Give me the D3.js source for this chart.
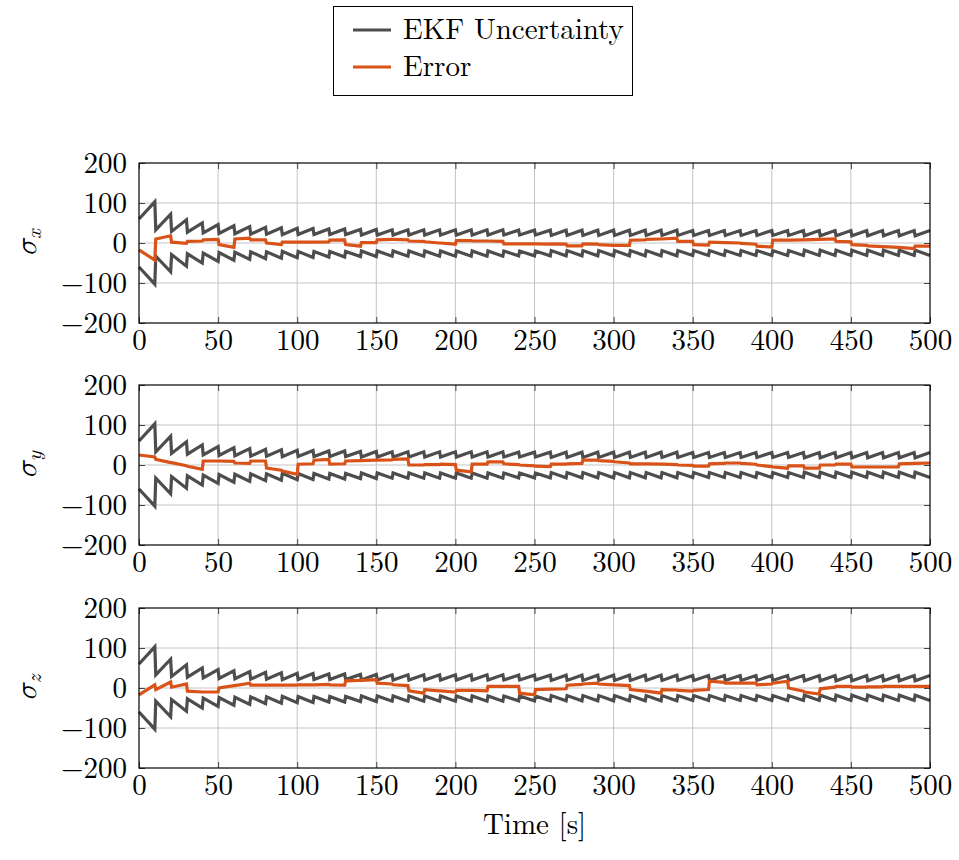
<!DOCTYPE html>
<html>
<head>
<meta charset="utf-8">
<script src="https://cdn.jsdelivr.net/npm/d3@7"></script>
<style>
  html, body { margin: 0; padding: 0; background: #fff; }
  svg { display: block; }
</style>
</head>
<body>
<svg id="chart" width="959" height="860"></svg>
<script>
// ---------------- DATA ----------------
const xTicks = [0, 50, 100, 150, 200, 250, 300, 350, 400, 450, 500];
const yTicks = [-200, -100, 0, 100, 200];
const yTickLabels = ["\u2212200", "\u2212100", "0", "100", "200"];
const panelLabels = ["x", "y", "z"];
const legendLabels = ["EKF Uncertainty", "Error"];
const xLabel = "Time [s]";

// update instants of the filter (s)
const updateTimes = [10,20,30,40,50,60,70,80,90,100,110,120,130,140,150,160,170,180,190,200,
  210,220,230,240,250,260,270,280,290,300,310,320,330,340,350,360,370,380,390,400,
  410,420,430,440,450,460,470,480,490];
// EKF 1-sigma bound: value at t=0, value just before each update, value just after, value at t=500
const sigmaStart = 60;
const sigmaBefore = [103,72,58,50,46,43,41,39,38,37,36,35,35,34,34,33,33,33,33,33,
  33,33,33,32,32,32,32,32,32,32,32,32,32,32,31,31,31,31,31,31,
  31,31,31,31,31,31,31,31,31];
const sigmaAfter = [33,29,27,25,24,23,22,22,21,21,21,21,21,20,20,20,20,20,20,20,
  20,20,20,20,20,19,19,19,19,19,19,19,19,19,19,19,19,19,19,19,
  19,18,18,18,18,18,18,18,18];
const sigmaEnd = 31;

// Error: value at start of each 10 s interval (after update) and at its end (before next update)
const errXStart = [-17,10,2,4,8,-4,10,8,0,2,2,2,7,-4,1,8,9,5,3,0,
  6,5,5,-2,-2,-2,-2,-7,-2,-4,-6,7,9,10,4,-4,2,1,-1,-8,
  7,7,8,9,4,-4,-7,-9,-11,-8];
const errXEnd = [-43,18,-1,5,9,-11,12,8,-4,2,2,3,8,-8,1,9,8,4,0,-3,
  6,5,4,-2,-2,-3,-3,-7,-3,-6,-6,8,10,12,4,-5,1,0,-3,-10,
  7,8,9,10,3,-6,-9,-11,-14,-8];

const errYStart = [25,14,6,-3,10,10,5,10,-8,-15,2,12,2,10,11,12,14,0,1,2,
  -13,2,8,3,0,-3,2,3,12,11,8,3,3,2,0,-3,3,5,4,0,
  -5,-2,-8,0,2,-5,-5,-5,3,4];
const errYEnd = [20,6,-2,-11,10,9,4,10,-13,-23,3,14,3,11,12,13,15,0,1,1,
  -17,2,8,1,-2,-4,2,4,12,9,5,3,2,1,-1,-3,4,5,2,-4,
  -8,-2,-8,0,2,-5,-5,-5,4,5];

const errZStart = [-17,-4,2,-8,-10,0,6,7,7,7,8,8,8,18,19,12,8,-7,-4,-7,
  -6,-6,4,4,-13,-4,-3,7,10,10,8,-4,-8,-4,-6,-6,17,12,12,8,
  12,0,-10,-2,4,2,3,4,4,4];
const errZEnd = [8,15,10,-10,-10,6,12,7,7,7,8,9,7,19,21,10,6,-13,-7,-10,
  -6,-7,4,4,-17,-3,-2,9,12,8,6,-8,-13,-5,-8,-4,14,12,12,10,
  17,-8,-15,2,4,2,3,4,4,4];

// ---------------- LAYOUT ----------------
const FONT = "'Latin Modern Roman', 'Liberation Serif', serif";
const MATHFONT = "'Latin Modern Math', 'FreeSerif', 'Liberation Serif', serif";
const svg = d3.select("#chart");
const left = 139, right = 930;
const panelTops = [163, 385, 608];
const panelH = 160;
const colUnc = "#4d4d4d";
const colErr = "#d95319";
const gridCol = "#c4c4c4";

const x = d3.scaleLinear().domain([0, 500]).range([left, right]);

function sigmaPoints(sign) {
  const pts = [[0, sign * sigmaStart]];
  updateTimes.forEach((t, i) => {
    pts.push([t, sign * sigmaBefore[i]]);
    pts.push([t + 0.6, sign * sigmaAfter[i]]);
  });
  pts.push([500, sign * sigmaEnd]);
  return pts;
}
function errorPoints(starts, ends) {
  const pts = [];
  starts.forEach((v, i) => {
    const t0 = i === 0 ? 0 : updateTimes[i - 1] + 0.6;
    const t1 = i < updateTimes.length ? updateTimes[i] : 500;
    pts.push([t0, v]);
    pts.push([t1, ends[i]]);
  });
  return pts;
}
const errSets = [[errXStart, errXEnd], [errYStart, errYEnd], [errZStart, errZEnd]];

panelTops.forEach((top, p) => {
  const y = d3.scaleLinear().domain([-200, 200]).range([top + panelH, top]);
  const g = svg.append("g");

  // grid
  g.append("g").selectAll("line").data(xTicks.slice(1, -1)).join("line")
    .attr("x1", d => x(d)).attr("x2", d => x(d))
    .attr("y1", top).attr("y2", top + panelH)
    .attr("stroke", gridCol).attr("stroke-width", 1);
  g.append("g").selectAll("line").data(yTicks.slice(1, -1)).join("line")
    .attr("x1", left).attr("x2", right)
    .attr("y1", d => y(d)).attr("y2", d => y(d))
    .attr("stroke", gridCol).attr("stroke-width", 1);

  // axes (ticks inside, on all sides)
  const tickLen = 6;
  const axB = d3.axisBottom(x).tickValues(xTicks).tickSize(-tickLen).tickPadding(6).tickFormat(d3.format("d"));
  const axT = d3.axisTop(x).tickValues(xTicks).tickSize(-tickLen).tickFormat("");
  const axL = d3.axisLeft(y).tickValues(yTicks).tickSize(-tickLen).tickPadding(12)
    .tickFormat(d => yTickLabels[yTicks.indexOf(d)]);
  const axR = d3.axisRight(y).tickValues(yTicks).tickSize(-tickLen).tickFormat("");

  const styleAxis = sel => {
    sel.select(".domain").remove();
    sel.attr("font-family", null);
    sel.selectAll(".tick line").attr("stroke", "#444").attr("stroke-width", 1);
    sel.selectAll(".tick text").style("font-family", FONT).style("font-size", "29px").attr("fill", "#000");
  };
  g.append("g").attr("transform", `translate(0,${top + panelH})`).call(axB).call(styleAxis)
    .selectAll(".tick text").attr("dy", "0.71em");
  g.append("g").attr("transform", `translate(0,${top})`).call(axT).call(styleAxis);
  g.append("g").attr("transform", `translate(${left},0)`).call(axL).call(styleAxis)
    .selectAll(".tick text").attr("dy", "0.33em");
  g.append("g").attr("transform", `translate(${right},0)`).call(axR).call(styleAxis);

  const line = d3.line().x(d => x(d[0])).y(d => y(d[1]));

  // uncertainty bounds
  [1, -1].forEach(s => {
    g.append("path").datum(sigmaPoints(s)).attr("d", line)
      .attr("fill", "none").attr("stroke", colUnc).attr("stroke-width", 3.2)
      .attr("stroke-linejoin", "miter").attr("stroke-miterlimit", 10);
  });
  // error
  g.append("path").datum(errorPoints(errSets[p][0], errSets[p][1])).attr("d", line)
    .attr("fill", "none").attr("stroke", colErr).attr("stroke-width", 3.2)
    .attr("stroke-linejoin", "miter").attr("stroke-miterlimit", 10);

  // frame
  g.append("rect").attr("x", left).attr("y", top).attr("width", right - left).attr("height", panelH)
    .attr("fill", "none").attr("stroke", "#000").attr("stroke-width", 1.2);

  // y label sigma_x
  const cy = top + panelH / 2;
  const lab = g.append("text")
    .attr("transform", `translate(36,${cy}) rotate(-90)`)
    .attr("text-anchor", "middle")
    .style("font-size", "30px").style("font-style", "italic").style("font-weight", "normal");
  lab.append("tspan").style("font-family", MATHFONT).text("\u03c3");
  lab.append("tspan").style("font-family", FONT).style("font-size", "21px").attr("dy", "0.25em").text(panelLabels[p]);
});

// x label
svg.append("text").attr("x", (left + right) / 2).attr("y", 834)
  .attr("text-anchor", "middle").style("font-family", FONT).style("font-size", "29px").text(xLabel);

// legend
const lg = svg.append("g");
lg.append("rect").attr("x", 333.5).attr("y", 6.5).attr("width", 299).attr("height", 89)
  .attr("fill", "#fff").attr("stroke", "#000").attr("stroke-width", 1);
const legCols = [colUnc, colErr];
const legY = [30, 67];
legendLabels.forEach((t, i) => {
  lg.append("line").attr("x1", 353).attr("x2", 391).attr("y1", legY[i]).attr("y2", legY[i])
    .attr("stroke", legCols[i]).attr("stroke-width", 3.2);
  lg.append("text").attr("x", 403).attr("y", legY[i] + 9)
    .style("font-family", FONT).style("font-size", "29px").text(t);
});
</script>
</body>
</html>
